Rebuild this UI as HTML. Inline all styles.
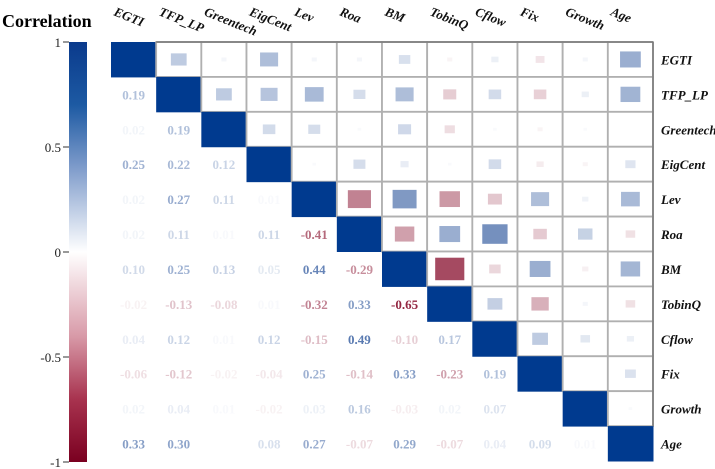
<!DOCTYPE html>
<html><head><meta charset="utf-8"><style>
html,body{margin:0;padding:0;background:#fff;width:715px;height:469px;overflow:hidden}
svg{display:block;font-family:"Liberation Serif",serif}
</style></head><body>
<svg id="chart" width="715" height="469">
<defs><linearGradient id="cb" x1="0" y1="0" x2="0" y2="1">
<stop offset="0" stop-color="#0a3a8c"/><stop offset="0.15" stop-color="#1d5aa3"/><stop offset="0.3" stop-color="#7f9ccb"/><stop offset="0.5" stop-color="#ffffff"/><stop offset="0.7" stop-color="#d89aa8"/><stop offset="0.85" stop-color="#a8334f"/><stop offset="1" stop-color="#7a0020"/></linearGradient></defs>
<text x="2" y="27" font-size="18" font-weight="bold">Correlation</text>
<rect x="69" y="42" width="18" height="420" fill="url(#cb)"/>
<g id="cbticks"></g>
<g id="cells"></g>
</svg>
<script>
const vars=["EGTI","TFP_LP","Greentech","EigCent","Lev","Roa","BM","TobinQ","Cflow","Fix","Growth","Age"];
const r1=[0.19];
const r2=[0.02,0.19];
const r3=[0.25,0.22,0.12];
const r4=[0.02,0.27,0.11,0.01];
const r5=[0.02,0.11,0.01,0.11,-0.41];
const r6=[0.10,0.25,0.13,0.05,0.44,-0.29];
const r7=[-0.02,-0.13,-0.08,0.01,-0.32,0.33,-0.65];
const r8=[0.04,0.12,0.01,0.12,-0.15,0.49,-0.10,0.17];
const r9=[-0.06,-0.12,-0.02,-0.04,0.25,-0.14,0.33,-0.23,0.19];
const r10=[0.02,0.04,0.01,-0.02,0.03,0.16,-0.03,0.02,0.07,0.00];
const r11=[0.33,0.30,0.00,0.08,0.27,-0.07,0.29,-0.07,0.04,0.09,0.01];
const lower=[[],r1,r2,r3,r4,r5,r6,r7,r8,r9,r10,r11];
const cbTicks=[1,0.5,0,-0.5,-1];
const tickLabels=["1","0.5","0","-0.5","-1"];

const NS="http://www.w3.org/2000/svg";
const x0=111,y0=42,W=542,H=419,n=vars.length,cw=W/n,ch=H/n;
const cx=i=>x0+i*cw, cy=i=>y0+i*ch;
const cbY=v=>42+(1-v)/2*420;
function mk(tag,attrs,parent){const e=document.createElementNS(NS,tag);for(const k in attrs)e.setAttribute(k,attrs[k]);parent.appendChild(e);return e;}
function col(v){v=Math.max(-1,Math.min(1,v));const t=Math.pow(Math.abs(v),0.8);
 const c=v>=0?[10,58,140]:[128,0,32];
 return `rgb(${Math.round(255+(c[0]-255)*t)},${Math.round(255+(c[1]-255)*t)},${Math.round(255+(c[2]-255)*t)})`;}
function corr(i,j){if(i===j)return 1;return i>j?lower[i][j]:lower[j][i];}
const tg=document.getElementById('cbticks');
cbTicks.forEach((v,k)=>{
 const l=mk('line',{x1:63,x2:69,y1:cbY(v),y2:cbY(v),stroke:'#333'},tg);
 
 
 const t=mk('text',{x:61,y:cbY(v)+5,'text-anchor':'end','font-size':13,fill:'#222'},tg);
 t.textContent=tickLabels[k];
 
 
});
const g=document.getElementById('cells');
for(let i=0;i<n;i++){for(let j=0;j<n;j++){
 const v=corr(i,j);
 if(j>i){
  const b=mk('rect',{x:cx(j),y:cy(i),width:cw,height:ch,fill:'#fff',stroke:'#b0b0b0','stroke-width':1.8},g);
  
  
  const s=Math.sqrt(Math.abs(v))*0.8;
  const r=mk('rect',{x:cx(j)+cw*(1-s)/2,y:cy(i)+ch*(1-s)/2,width:cw*s,height:ch*s,fill:col(v)},g);
  
  
 } else if(j===i){
  const r=mk('rect',{x:cx(j),y:cy(i),width:cw+0.5,height:ch+0.5,fill:'#003a8f'},g);
  
  
 } else {
  const t=mk('text',{x:cx(j)+cw/2,y:cy(i)+ch/2+5,'text-anchor':'middle','font-size':13,'font-weight':'bold',fill:col(v*1.25)},g);
  t.textContent=v.toFixed(2);
  
  
 }
}}
mk('line',{x1:x0+cw,y1:y0,x2:x0+W,y2:y0,stroke:'#777','stroke-width':1.5},g);
mk('line',{x1:x0+W,y1:y0,x2:x0+W,y2:y0+H-ch,stroke:'#777','stroke-width':1.5},g);
vars.forEach((name,i)=>{
 const t=mk('text',{x:661,y:cy(i)+ch/2+5,'font-size':13,'font-weight':'bold','font-style':'italic',fill:'#111'},g);
 t.textContent=name;
 
 
 const c=mk('text',{x:0,y:0,'font-size':13,'font-weight':'bold','font-style':'italic',fill:'#111',transform:`translate(${cx(i)+2},${15}) rotate(22)`},g);
 c.textContent=name;
 
 
});
</script>
</body></html>
